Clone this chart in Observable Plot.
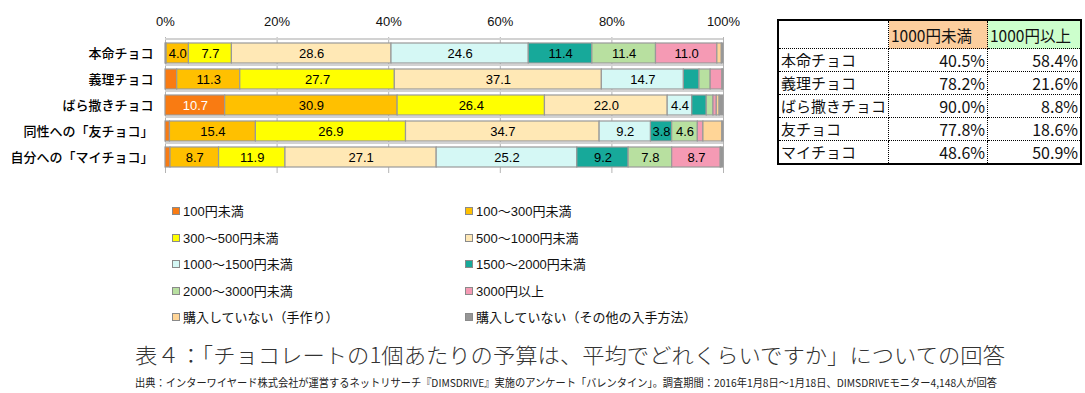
<!DOCTYPE html>
<html><head><meta charset="utf-8">
<script src="https://cdn.jsdelivr.net/npm/d3@7"></script>
<script src="https://cdn.jsdelivr.net/npm/@observablehq/plot@0.6"></script>
<style>
body{margin:0;width:1085px;height:393px;position:relative;background:#fff;overflow:hidden;font-family:"Liberation Sans","Noto Sans CJK JP",sans-serif;}
#chart{position:absolute;left:0;top:0;}
.lg{position:absolute;font-size:13px;color:#111;white-space:nowrap;line-height:16px;font-family:"Liberation Sans","Noto Sans CJK JP",sans-serif;}
.lg i{display:inline-block;width:6px;height:6px;border:1px solid #8a8a8a;margin-right:3px;vertical-align:1px;}
#tbl{position:absolute;left:777px;top:19px;border-collapse:collapse;border:2px solid #000;font-family:"Noto Sans CJK JP",sans-serif;color:#111;}
#tbl td{border:1px dotted #000;padding:0 2px;height:22px;line-height:22px;font-size:15px;white-space:nowrap;}
#tbl tr.h td{height:27px;font-size:15.5px;}
#tbl td.n{text-align:right;font-size:16px;}
#txt{position:absolute;left:0;top:0;}
</style></head>
<body>
<div id="chart"></div>
<div id="legend"></div>
<table id="tbl"></table>
<svg id="txt" width="1085" height="393"></svg>
<script>
const categories = ["本命チョコ","義理チョコ","ばら撒きチョコ","同性への「友チョコ」","自分への「マイチョコ」"];
const brackets = ["100円未満","100～300円未満","300～500円未満","500～1000円未満","1000～1500円未満","1500～2000円未満","2000～3000円未満","3000円以上","購入していない（手作り）","購入していない（その他の入手方法）"];
const colors = ["#F97B12","#FFC000","#FFFF00","#FFE8B5","#D5F8F5","#17A99A","#B8E0A0","#F59AB4","#FFD597","#969696"];
const under100   = [0.2, 2.1, 10.7, 0.8, 0.9];
const b100_300   = [4.0, 11.3, 30.9, 15.4, 8.7];
const b300_500   = [7.7, 27.7, 26.4, 26.9, 11.9];
const b500_1000  = [28.6, 37.1, 22.0, 34.7, 27.1];
const b1000_1500 = [24.6, 14.7, 4.4, 9.2, 25.2];
const b1500_2000 = [11.4, 2.8, 2.6, 3.8, 9.2];
const b2000_3000 = [11.4, 2.0, 1.2, 4.6, 7.8];
const over3000   = [11.0, 2.1, 0.6, 1.0, 8.7];
const handmade   = [0.8, 0.1, 0.5, 3.4, 0.1];
const otherWay   = [0.3, 0.1, 0.7, 0.2, 0.4];
const xTicks = [0, 20, 40, 60, 80, 100];

const tableRows = ["本命チョコ","義理チョコ","ばら撒きチョコ","友チョコ","マイチョコ"];
const tableHeads = ["1000円未満","1000円以上"];
const under1000 = [40.5, 78.2, 90.0, 77.8, 48.6];
const over1000  = [58.4, 21.6, 8.8, 18.6, 50.9];

const title = "表４：「チョコレートの1個あたりの予算は、平均でどれくらいですか」についての回答";
const caption = "出典：インターワイヤード株式会社が運営するネットリサーチ『DIMSDRIVE』実施のアンケート「バレンタイン」。調査期間：2016年1月8日～1月18日、DIMSDRIVEモニター4,148人が回答";

const series = [under100,b100_300,b300_500,b500_1000,b1000_1500,b1500_2000,b2000_3000,over3000,handmade,otherWay];
const data = [];
series.forEach((vals, j) => categories.forEach((c, i) => data.push({cat: c, bracket: brackets[j], value: vals[i]})));
const labelled = d => d.value >= 3.5;

const chart = Plot.plot({
  width: 740, height: 180,
  marginLeft: 165, marginRight: 17, marginTop: 37, marginBottom: 7,
  x: {domain: [0, 100], axis: null, label: null},
  y: {domain: categories, paddingInner: 0.23, paddingOuter: 0.22, axis: null, label: null},
  color: {domain: brackets, range: colors},
  style: {fontFamily: '"Liberation Sans","Noto Sans CJK JP",sans-serif', fontSize: "13px", background: "transparent", color: "#111"},
  marks: [
    Plot.gridX(xTicks, {stroke: "#b4b4b4", strokeOpacity: 1}),
    Plot.barX(categories, {x1: 0, x2: 100, y: d => d, fill: "#d2d2d2", insetTop: -5, insetBottom: 23}),
    Plot.axisX(xTicks, {anchor: "top", tickSize: 0, tickPadding: 12, tickFormat: d => d + "%", fontSize: 13, label: null}),
    Plot.axisY({tickSize: 0, tickPadding: 12, fontSize: 13, fill: "#000", fontFamily: '"Noto Sans CJK JP",sans-serif', fontWeight: 500, label: null}),
    Plot.barX(data, Plot.stackX({x: "value", y: "cat", fill: "bracket", stroke: "#999", strokeWidth: 1.2})),
    Plot.text(data, Plot.stackX({x: "value", y: "cat", z: "bracket", text: d => labelled(d) && d.bracket !== brackets[0] ? d.value.toFixed(1) : null, fill: "#000", fontSize: 13})),
    Plot.text(data, Plot.stackX({x: "value", y: "cat", z: "bracket", text: d => labelled(d) && d.bracket === brackets[0] ? d.value.toFixed(1) : null, fill: "#fff", fontSize: 13}))
  ]
});
document.getElementById("chart").appendChild(chart);

// legend
const lg = document.getElementById("legend");
brackets.forEach((b, i) => {
  const el = document.createElement("div");
  el.className = "lg";
  el.style.left = (i % 2 ? 465 : 172) + "px";
  el.style.top = (204 + Math.floor(i / 2) * 26.5) + "px";
  el.innerHTML = `<i style="background:${colors[i]}"></i>${b}`;
  lg.appendChild(el);
});

// table
const tbl = document.getElementById("tbl");
let html = `<tr class="h"><td style="width:104px"></td><td style="width:94px;background:#FCCE9E">${tableHeads[0]}</td><td style="width:88px;background:#CCFFCC">${tableHeads[1]}</td></tr>`;
tableRows.forEach((r, i) => {
  html += `<tr><td>${r}</td><td class="n">${under1000[i].toFixed(1)}%</td><td class="n">${over1000[i].toFixed(1)}%</td></tr>`;
});
tbl.innerHTML = html;

// title & caption
const svg = d3.select("#txt");
svg.append("text").attr("x", 135).attr("y", 357).attr("dominant-baseline", "middle")
  .attr("textLength", 870).attr("lengthAdjust", "spacingAndGlyphs")
  .attr("font-family", '"Noto Sans CJK JP",sans-serif').attr("font-weight", 300).attr("font-size", 21).attr("fill", "#333").text(title);
svg.append("text").attr("x", 135).attr("y", 384).attr("dominant-baseline", "middle")
  .attr("textLength", 862).attr("lengthAdjust", "spacingAndGlyphs")
  .attr("font-family", '"Noto Sans CJK JP",sans-serif').attr("font-size", 11).attr("fill", "#222").text(caption);
</script>
</body></html>
